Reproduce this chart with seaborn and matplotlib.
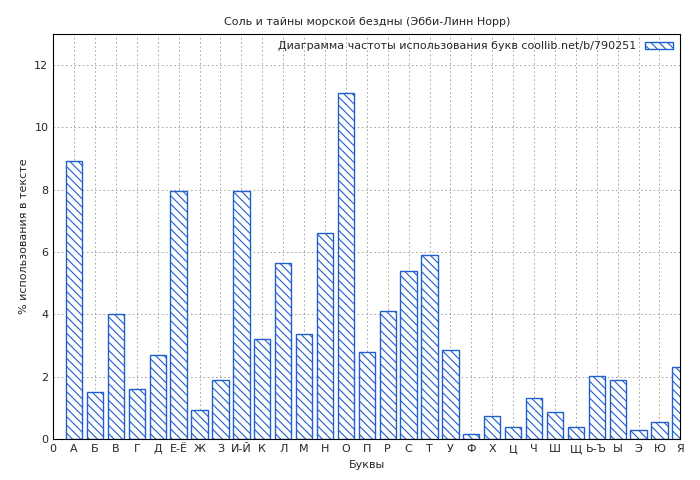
import matplotlib
matplotlib.use("Agg")
import matplotlib.pyplot as plt
import seaborn as sns
import pandas as pd

letters = ["А", "Б", "В", "Г", "Д", "Е-Ё", "Ж", "З", "И-Й", "К", "Л", "М", "Н", "О", "П",
           "Р", "С", "Т", "У", "Ф", "Х", "Ц", "Ч", "Ш", "Щ", "Ь-Ъ", "Ы", "Э", "Ю", "Я"]
values = [8.93, 1.50, 4.02, 1.60, 2.69, 7.97, 0.93, 1.89, 7.94, 3.20, 5.66, 3.36, 6.62, 11.10, 2.78,
          4.10, 5.38, 5.89, 2.85, 0.16, 0.74, 0.38, 1.31, 0.86, 0.38, 2.02, 1.89, 0.29, 0.54, 2.30]

sns.set_style("white")
plt.rcParams['font.family'] = ['DejaVu Sans']
plt.rcParams['hatch.color'] = '#1f5fcf'
plt.rcParams['hatch.linewidth'] = 0.8

df = pd.DataFrame({'letter': letters, 'value': values})
fig, ax = plt.subplots(figsize=(7, 4.8), dpi=100)
sns.barplot(data=df, x='letter', y='value', ax=ax, color='white', edgecolor='#1f5fcf',
            linewidth=1, hatch='\\\\\\\\', width=0.78, label='Диаграмма частоты использования букв coollib.net/b/790251')

ax.set_xlim(-1, len(letters) - 1)
ax.set_ylim(0, 13)
ax.set_xticks(range(-1, len(letters)))
ax.set_xticklabels(["0"] + letters, fontsize=8)
ax.set_yticks(range(0, 13, 2))
ax.tick_params(axis='y', labelsize=8)
ax.tick_params(direction='in', length=3)
ax.grid(True, linestyle=(0, (2, 3)), color='#999999', linewidth=0.6)
ax.set_axisbelow(True)
for s in ax.spines.values():
    s.set_color('black')
    s.set_linewidth(0.8)
ax.set_xlabel('Буквы', fontsize=8)
ax.set_ylabel('% использования в тексте', fontsize=8)
ax.set_title('Соль и тайны морской бездны (Эбби-Линн Норр)', fontsize=8)
leg = ax.legend(loc='upper right', fontsize=8, frameon=False, markerfirst=False,
                handlelength=2.5, borderaxespad=0.3)
plt.subplots_adjust(left=0.076, right=0.972, top=0.93, bottom=0.085)
fig.savefig('out.png', dpi=100)
